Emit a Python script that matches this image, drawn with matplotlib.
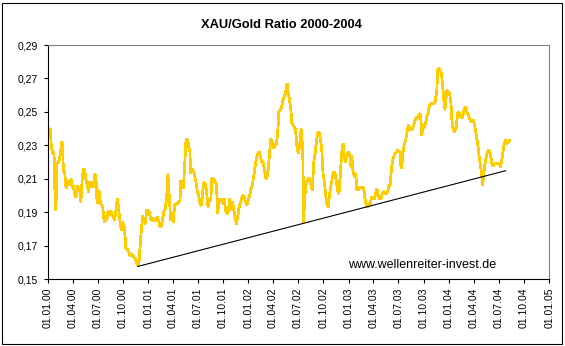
import numpy as np
import matplotlib
matplotlib.use("Agg")
import matplotlib.pyplot as plt
import matplotlib.dates as mdates
from matplotlib.ticker import FixedLocator, FuncFormatter
from matplotlib.patches import Rectangle

plt.rcParams['font.family'] = ['Liberation Sans', 'DejaVu Sans']

# XAU / gold price ratio, sampled roughly weekly (days counted from 1 Jan 2000)
start_date = np.datetime64('2000-01-01')
days = [
    0, 4, 10, 13, 18, 23, 28, 30, 34, 39, 42, 47, 51, 54, 57, 62, 67, 72, 75, 80,
    85, 90, 93, 98, 103, 108, 113, 118, 121, 125, 130, 135, 139, 144, 149, 153, 158, 163, 167, 172,
    176, 180, 183, 188, 193, 198, 201, 206, 210, 215, 220, 224, 229, 234, 239, 244, 249, 254, 258, 263,
    268, 273, 278, 282, 285, 290, 295, 300, 305, 310, 314, 319, 324, 328, 333, 337, 341, 346, 351, 356,
    360, 365, 370, 375, 380, 385, 390, 394, 399, 404, 409, 414, 419, 424, 428, 433, 438, 443, 448, 453,
    458, 462, 467, 472, 477, 482, 484, 489, 494, 499, 504, 509, 513, 518, 521, 526, 530, 535, 540, 545,
    550, 555, 560, 564, 569, 574, 579, 584, 589, 594, 598, 603, 608,
    615, 619, 624, 629, 634, 638, 643, 648, 653, 658, 663, 668, 672, 677, 682, 687, 692, 697, 702, 706,
    711, 716, 721, 726, 731, 736, 740, 745, 750, 755, 760, 765, 770, 774, 779, 784, 789, 794, 799, 804,
    808, 813, 818, 823, 828, 833, 838, 842, 847, 852, 857, 862, 867, 872, 876, 881, 886, 889, 893, 898,
    903, 908, 913, 918, 923, 927, 930, 932, 935, 940, 944, 949, 954, 959, 964, 969, 974, 978, 983, 988,
    993, 998, 1003, 1008, 1012, 1017, 1022, 1027, 1032, 1037, 1041, 1046, 1051, 1056, 1061, 1066, 1071, 1076, 1080, 1085,
    1090, 1095, 1100, 1105, 1107, 1112, 1117, 1122, 1126, 1131, 1136, 1141, 1146, 1151, 1156, 1160, 1165, 1170, 1175, 1180,
    1185, 1190, 1194, 1199, 1204, 1209, 1214, 1219, 1224, 1228, 1233, 1238, 1243,
    1247, 1250, 1253, 1256, 1260, 1265, 1270, 1275, 1279, 1284, 1287, 1292, 1295, 1299, 1304, 1309, 1313, 1318, 1323, 1328,
    1333, 1338, 1343, 1347, 1352, 1357, 1360, 1362, 1367, 1372, 1377, 1381, 1386, 1391, 1396, 1401, 1406, 1411, 1415, 1418,
    1420, 1425, 1430, 1435, 1437, 1440, 1442, 1445, 1447, 1449, 1452, 1454, 1459, 1464, 1469, 1471, 1474, 1479, 1483, 1488,
    1493, 1498, 1503, 1508, 1513, 1517, 1522, 1527, 1532, 1537, 1542, 1547, 1551, 1556, 1561, 1566, 1571, 1576, 1581, 1583,
    1585, 1588, 1590, 1595, 1600, 1605, 1610, 1615, 1619, 1624, 1629, 1634, 1639, 1644, 1649, 1653, 1658, 1663, 1668, 1673,
    1678, 1683,
]
ratio = [
    0.235, 0.240, 0.239, 0.230, 0.225, 0.226, 0.191, 0.192, 0.219, 0.220, 0.221, 0.226, 0.232, 0.231, 0.215, 0.214, 0.204, 0.208, 0.209, 0.206,
    0.210, 0.205, 0.206, 0.201, 0.199, 0.206, 0.204, 0.202, 0.196, 0.208, 0.216, 0.215, 0.210, 0.206, 0.202, 0.208, 0.205, 0.208, 0.205, 0.213,
    0.210, 0.195, 0.203, 0.202, 0.195, 0.194, 0.192, 0.184, 0.188, 0.185, 0.191, 0.188, 0.191, 0.189, 0.187, 0.185, 0.192, 0.198, 0.193, 0.185,
    0.179, 0.184, 0.182, 0.175, 0.168, 0.168, 0.166, 0.164, 0.165, 0.164, 0.163, 0.162, 0.160, 0.158, 0.161, 0.171, 0.179, 0.188, 0.185, 0.183,
    0.191, 0.191, 0.190, 0.186, 0.185, 0.186, 0.185, 0.185, 0.187, 0.185, 0.181, 0.182, 0.186, 0.191, 0.192, 0.198, 0.213, 0.199, 0.185, 0.190,
    0.184, 0.194, 0.195, 0.195, 0.196, 0.197, 0.209, 0.207, 0.204, 0.218, 0.234, 0.233, 0.230, 0.226, 0.213, 0.216, 0.215, 0.212, 0.208, 0.202,
    0.200, 0.195, 0.194, 0.201, 0.208, 0.207, 0.202, 0.193, 0.198, 0.197, 0.210, 0.210, 0.209,
    0.206, 0.189, 0.198, 0.197, 0.198, 0.195, 0.198, 0.191, 0.189, 0.190, 0.198, 0.191, 0.196, 0.193, 0.187, 0.183, 0.187, 0.193, 0.195, 0.198,
    0.200, 0.199, 0.196, 0.194, 0.198, 0.200, 0.204, 0.206, 0.211, 0.217, 0.222, 0.225, 0.226, 0.224, 0.220, 0.220, 0.216, 0.210, 0.211, 0.217,
    0.225, 0.234, 0.232, 0.228, 0.230, 0.231, 0.238, 0.250, 0.251, 0.253, 0.257, 0.259, 0.262, 0.267, 0.261, 0.257, 0.251, 0.243, 0.242, 0.241,
    0.239, 0.229, 0.225, 0.230, 0.240, 0.232, 0.219, 0.184, 0.195, 0.206, 0.208, 0.210, 0.210, 0.206, 0.203, 0.220, 0.225, 0.231, 0.237, 0.238,
    0.234, 0.228, 0.213, 0.208, 0.201, 0.195, 0.193, 0.201, 0.206, 0.211, 0.214, 0.214, 0.209, 0.203, 0.201, 0.213, 0.226, 0.231, 0.224, 0.220,
    0.225, 0.226, 0.224, 0.217, 0.224, 0.215, 0.211, 0.213, 0.204, 0.203, 0.205, 0.205, 0.205, 0.204, 0.198, 0.194, 0.193, 0.195, 0.195, 0.199,
    0.199, 0.198, 0.201, 0.204, 0.200, 0.198, 0.198, 0.201, 0.202, 0.201, 0.201, 0.202, 0.206,
    0.206, 0.212, 0.217, 0.221, 0.223, 0.225, 0.226, 0.227, 0.226, 0.226, 0.216, 0.221, 0.227, 0.231, 0.233, 0.238, 0.242, 0.241, 0.239, 0.240,
    0.242, 0.245, 0.247, 0.246, 0.248, 0.249, 0.244, 0.236, 0.240, 0.241, 0.244, 0.247, 0.250, 0.254, 0.255, 0.255, 0.255, 0.256, 0.260, 0.264,
    0.275, 0.276, 0.274, 0.273, 0.267, 0.263, 0.257, 0.256, 0.251, 0.257, 0.259, 0.263, 0.262, 0.261, 0.255, 0.248, 0.242, 0.239, 0.238, 0.241,
    0.249, 0.250, 0.248, 0.246, 0.248, 0.252, 0.253, 0.250, 0.248, 0.246, 0.244, 0.245, 0.245, 0.241, 0.236, 0.231, 0.224, 0.218, 0.212, 0.206,
    0.212, 0.209, 0.216, 0.221, 0.225, 0.227, 0.226, 0.222, 0.218, 0.218, 0.219, 0.219, 0.219, 0.219, 0.217, 0.220, 0.226, 0.231, 0.233, 0.231,
    0.232, 0.233,
]

# Support trendline drawn under the lows (start and end points)
trend_days = [328, 1668]
trend_values = [0.1575, 0.2148]

y_ticks = [0.15, 0.17, 0.19, 0.21, 0.23, 0.25, 0.27, 0.29]
x_start, x_end = '2000-01-01', '2005-01-01'

title = 'XAU/Gold Ratio 2000-2004'
source = 'www.wellenreiter-invest.de'

dates = start_date + np.array(days).astype('timedelta64[D]')
trend_dates = start_date + np.array(trend_days).astype('timedelta64[D]')

fig = plt.figure(figsize=(5.65, 3.46), dpi=100)
fig.patch.set_facecolor('white')

# Black frame around the whole chart
fig.patches.append(Rectangle((0.0035, 0.005), 0.9917, 0.987, transform=fig.transFigure,
                             fill=False, edgecolor='black', linewidth=0.8))

ax = fig.add_axes([0.0844, 0.1936, 0.8878, 0.6763])
ax.set_facecolor('white')

ax.plot(dates, ratio, color='#FFCC00', linewidth=1.25, antialiased=False, solid_joinstyle='miter')
ax.plot(trend_dates, trend_values, color='black', linewidth=0.8)

ax.set_xlim(np.datetime64(x_start), np.datetime64(x_end))
ax.set_ylim(y_ticks[0], y_ticks[-1])

ax.xaxis.set_major_locator(mdates.MonthLocator(bymonth=[1, 4, 7, 10]))
ax.xaxis.set_major_formatter(mdates.DateFormatter('%d.%m.%y'))
ax.yaxis.set_major_locator(FixedLocator(y_ticks))
ax.yaxis.set_major_formatter(FuncFormatter(lambda v, _: f'{v:.2f}'.replace('.', ',')))

ax.tick_params(axis='both', direction='out', length=3, width=0.8, color='black',
               labelsize=7.5, labelcolor='black')
ax.tick_params(axis='x', pad=3, labelrotation=90)
ax.tick_params(axis='y', pad=4)
for lbl in ax.get_xticklabels():
    lbl.set_verticalalignment('top')

for side in ('left', 'bottom'):
    ax.spines[side].set_color('black')
    ax.spines[side].set_linewidth(0.8)
for side in ('top', 'right'):
    ax.spines[side].set_color('#808080')
    ax.spines[side].set_linewidth(0.8)

fig.text(0.498, 0.928, title, ha='center', va='center', fontsize=9.3, fontweight='bold')
fig.text(0.616, 0.234, source, ha='left', va='center', fontsize=9)

fig.savefig('out.png', dpi=100)
